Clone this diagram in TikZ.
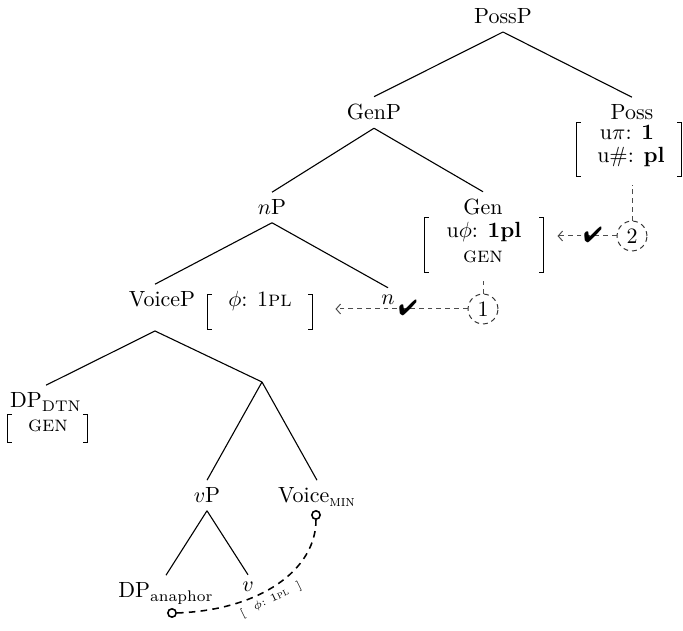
\documentclass[tikz,border=0pt]{standalone}
\usepackage{pifont}
\usetikzlibrary{arrows.meta,calc}
\newcommand\featbrackets[1]{%
  \draw[brk] ([xshift=1.8pt]#1.north west) -- (#1.north west) -- (#1.south west) -- ([xshift=1.8pt]#1.south west);
  \draw[brk] ([xshift=-1.8pt]#1.north east) -- (#1.north east) -- (#1.south east) -- ([xshift=-1.8pt]#1.south east);}
\begin{document}
\begin{tikzpicture}[x=0.455pt,y=-0.455pt,
  lbl/.style={anchor=base},
  tree/.style={line width=0.5pt},
  brk/.style={line width=0.65pt},
  frame/.style={draw=none,inner sep=0pt,rectangle},
  feat/.style={draw=black!70,line width=0.45pt,dash pattern=on 2.2pt off 1.8pt},
  fcirc/.style={circle,draw=black!80,line width=0.45pt,dash pattern=on 2.2pt off 1.8pt,minimum size=13.6pt,inner sep=0pt},
  ring/.style={circle,draw,line width=0.7pt,fill=white,minimum size=3.8pt,inner sep=0pt},
  curv/.style={line width=0.7pt,dash pattern=on 3pt off 2.4pt},
  chk/.style={inner sep=0pt}]
\useasboundingbox (0,0) rectangle (683,631);

% tree labels
\node[lbl] (possp) at (503,24) {PossP};
\node[lbl] (genp) at (374,120) {GenP};
\node[lbl] (poss) at (632,120) {Poss};
\node[lbl] (np) at (272,215) {$n$P};
\node[lbl] (gen) at (483,215) {Gen};
\node[lbl] (voicep) at (162,307) {VoiceP};
\node[lbl] (n) at (388,305) {$n$};
\node[lbl] (dpdtn) at (46,408) {DP\textsubscript{DTN}};
\coordinate (voiceapex) at (155,331);
\coordinate (xbar) at (262,382);
\node[lbl] (vp) at (207,503) {$v$P};
\node[lbl] (voicemin) at (317,503) {Voice\textsubscript{\textsc{min}}};
\node[lbl] (dpana) at (166,598) {DP\textsubscript{anaphor}};
\node[lbl] (v) at (248,592) {$v$};

% feature frames
\node[frame,minimum width=47.3pt,minimum height=24.1pt] (possfeat) at (629,149.5) {};
\node[frame,minimum width=53.7pt,minimum height=24.6pt] (genfeat) at (484,245) {};
\node[frame,minimum width=47.3pt,minimum height=15.5pt] (voicefeat) at (260,312) {};
\node[frame,minimum width=35.9pt,minimum height=12.3pt] (dtnfeat) at (47.5,428.5) {};
\featbrackets{possfeat}
\featbrackets{genfeat}
\featbrackets{voicefeat}
\featbrackets{dtnfeat}

% feature texts
\node[lbl] (possu1) at (627,140) {u$\pi$: \textbf{1}};
\node[lbl] (possu2) at (631,163) {u\#: \textbf{pl}};
\node[lbl] (genu) at (484,238) {u$\phi$: \textbf{1pl}};
\node[lbl] (gencase) at (483,263) {\textsc{gen}};
\node[lbl] (voicephi) at (260,307) {$\phi$: 1\textsc{pl}};
\node[lbl] (dtncase) at (48,432) {\textsc{gen}};

% tree lines
\draw[tree] (possp.south) -- (genp.north);
\draw[tree] (possp.south) -- (poss.north);
\draw[tree] (genp.south) -- (np.north);
\draw[tree] (genp.south) -- (gen.north);
\draw[tree] (np.south) -- ($(voicep.north)+(-7,0)$);
\draw[tree] (np.south) -- (n.north);
\draw[tree] (voiceapex) -- (dpdtn.north);
\draw[tree] (voiceapex) -- (xbar);
\draw[tree] (xbar) -- (vp.north);
\draw[tree] (xbar) -- (voicemin.north);
\draw[tree] (vp.south) -- (dpana.north);
\draw[tree] (vp.south) -- (v.north);

% agreement circles and arrows
\node[fcirc] (c1) at (483,309) {1};
\node[fcirc] (c2) at (632,236) {2};
\draw[feat,shorten >=4pt] (c2) -- (c2 |- possfeat.south);
\draw[feat,shorten >=4pt] (c1) -- (c1 |- genfeat.south);
\draw[feat,shorten >=6.4pt,-{Straight Barb[length=2pt,width=4.5pt]}] (c2.west) -- (c2.west -| genfeat.east);
\draw[feat,shorten >=10.5pt,-{Straight Barb[length=2pt,width=4.5pt]}] (c1.west) -- (c1.west -| voicefeat.east);
\node[chk] (chk2) at (593,235) {\ding{52}};
\node[chk] (chk1) at (408,308) {\ding{52}};

% binding curve
\node[ring] (cana) at (172,613) {};
\node[ring] (cmin) at (316,515) {};
\draw[curv] (cana.east) .. controls (260,610) and (316,570) .. (cmin.south);
\node[rotate=26,inner sep=0pt] (vlab) at (271,600) {\tiny [\hspace{4.5pt}$\phi$:\hspace{2.5pt}1\textsc{pl}\hspace{4.5pt}]};
\end{tikzpicture}
\end{document}
